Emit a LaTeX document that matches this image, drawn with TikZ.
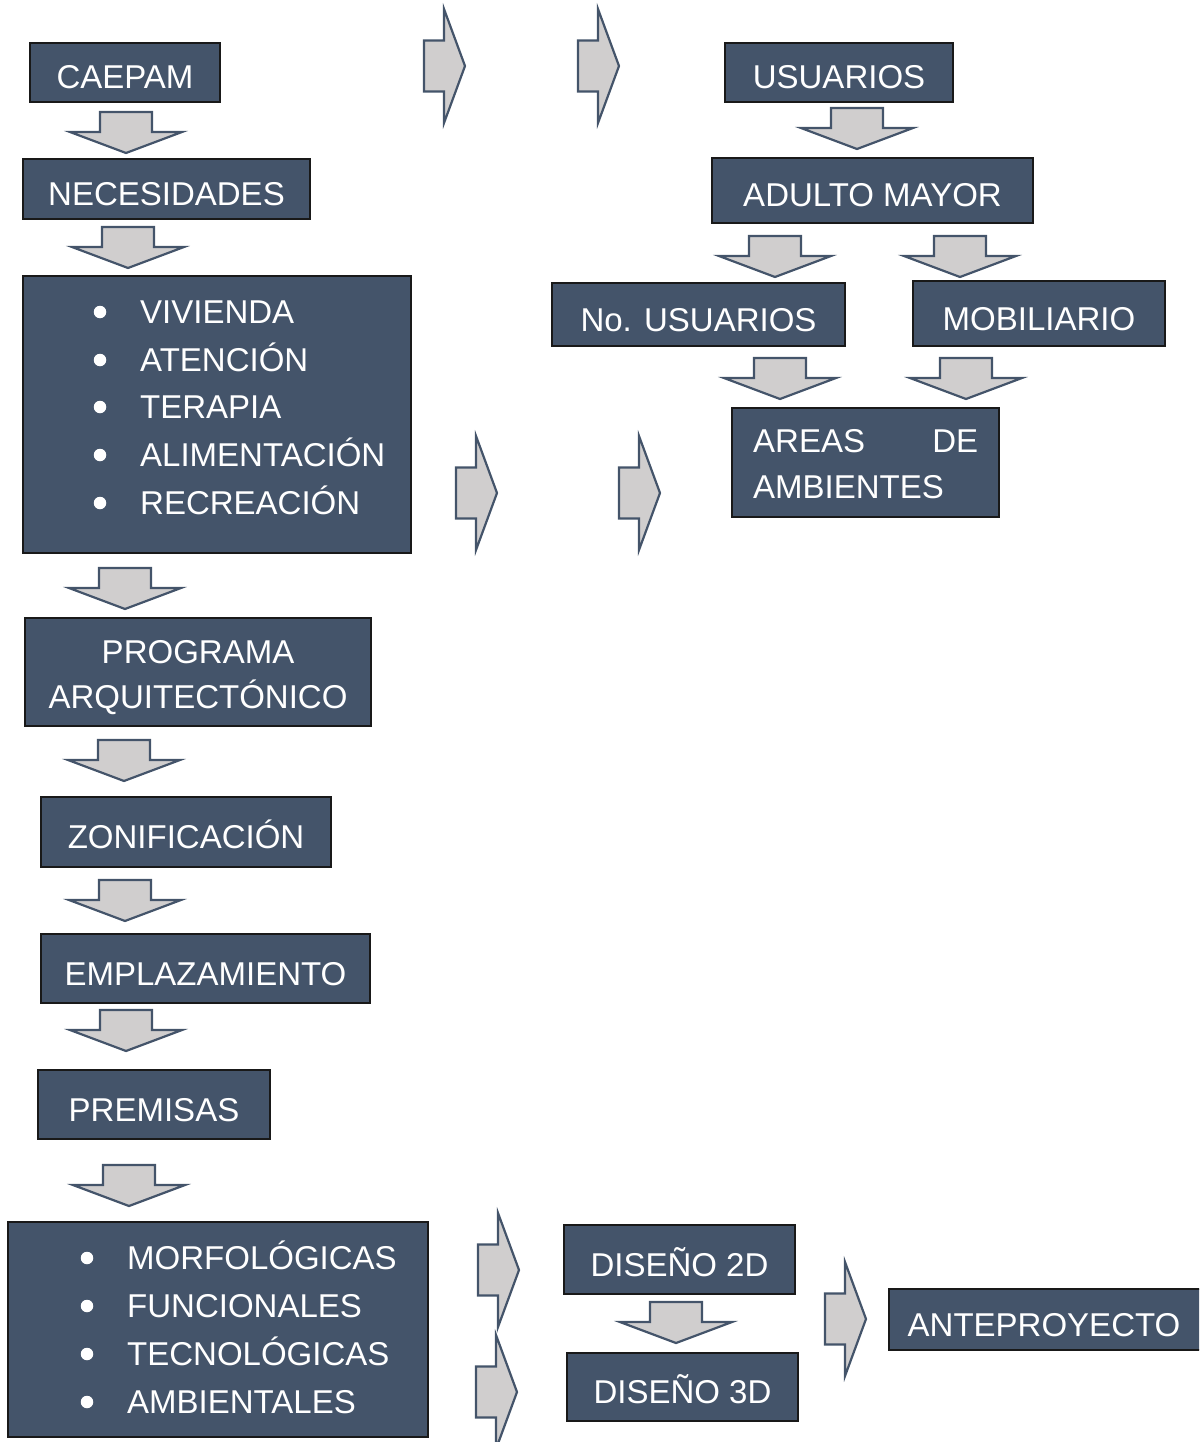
\documentclass[tikz,border=0pt]{standalone}
\usepackage{fontspec}
\setmainfont{Liberation Sans}
\definecolor{boxfill}{HTML}{44546A}
\definecolor{arrfill}{HTML}{D0CECE}
\definecolor{arrline}{HTML}{44546A}
\newcommand\mkbox[7][box]{\node[#1, minimum width={(#5-#3)*1pt}, minimum height={(#6-#4)*1pt}] (#2) at ({(#3+#5)/2},{(#4+#6)/2}) {#7};}
\newcommand\darr[2]{\draw[blockarrow] (#1-26,#2) -- (#1+26,#2) -- (#1+26,#2+20) -- (#1+56,#2+20) -- (#1,#2+41) -- (#1-56,#2+20) -- (#1-26,#2+20) -- cycle;}
\newcommand\rarr[2]{\draw[blockarrow] (#1,#2-25.5) -- (#1+20,#2-25.5) -- (#1+20,#2-57) -- (#1+41,#2) -- (#1+20,#2+57) -- (#1+20,#2+25.5) -- (#1,#2+25.5) -- cycle;}
\begin{document}
\begin{tikzpicture}[x=1pt,y=-1pt,
  boxbase/.style={draw=black!90, line width=1.8pt, fill=boxfill, text=white, inner sep=0pt,
     font=\fontsize{33}{45}\selectfont},
  box/.style={boxbase, text height=33pt, text depth=0pt},
  blockarrow/.style={draw=arrline, fill=arrfill, line width=2.2pt, line join=miter},
  txt/.style={text=white, inner sep=0pt, font=\fontsize{33}{45}\selectfont},
  dot/.style={circle, fill=white, inner sep=0pt, minimum size=12.5pt}]
\useasboundingbox (0,0) rectangle (1199,1442);
\clip (0,0) rectangle (1199,1442);

% left column boxes
\mkbox{caepam}{30}{43}{220}{102}{CAEPAM}
\mkbox{neces}{23}{159}{310}{219}{NECESIDADES}
\mkbox[boxbase]{listA}{23}{276}{411}{553}{}
\mkbox[boxbase]{prog}{25}{618}{371}{726}{}
\node[txt, anchor=base] (progA) at (198,652+11.8) {PROGRAMA};
\node[txt, anchor=base] (progB) at (198,697+11.8) {ARQUITECTÓNICO};
\mkbox{zonif}{41}{797}{331}{867}{ZONIFICACIÓN}
\mkbox{empl}{41}{934}{370}{1003}{EMPLAZAMIENTO}
\mkbox{prem}{38}{1070}{270}{1139}{PREMISAS}
\mkbox[boxbase]{listB}{8}{1222}{428}{1437}{}

% list A
\foreach \t/\y/\n in {VIVIENDA/312/a, ATENCIÓN/360/b, TERAPIA/407/c, ALIMENTACIÓN/455/d, RECREACIÓN/503/e}{
  \node[dot] (da\n) at (100,\y) {};
  \node[txt, anchor=base west] (ta\n) at (140,\y+11.8) {\t};
}
% list B
\foreach \t/\y/\n in {MORFOLÓGICAS/1258/a, FUNCIONALES/1306/b, TECNOLÓGICAS/1354/c, AMBIENTALES/1402/d}{
  \node[dot] (db\n) at (87,\y) {};
  \node[txt, anchor=base west] (tb\n) at (127,\y+11.8) {\t};
}

% right column boxes
\mkbox{usu}{725}{43}{953}{102}{USUARIOS}
\mkbox{adulto}{712}{158}{1033}{223}{ADULTO MAYOR}
\mkbox{nous}{552}{283}{845}{346}{No. USUARIOS}
\mkbox{mobil}{913}{281}{1165}{346}{MOBILIARIO}
\mkbox[boxbase]{areas}{732}{408}{999}{517}{}
\node[txt, anchor=base west] (areasA) at (753,441+11.8) {\hbox to 225pt{AREAS\hfill DE}};
\node[txt, anchor=base west] (areasB) at (753,487+11.8) {AMBIENTES};

% bottom boxes
\mkbox{d2d}{564}{1225}{795}{1294}{DISEÑO 2D}
\mkbox{d3d}{567}{1353}{798}{1421}{DISEÑO 3D}
\mkbox{ante}{889}{1289}{1203}{1350}{\hspace*{-4pt}ANTEPROYECTO}

% down arrows
\darr{126}{112}
\darr{128}{227}
\darr{125}{568}
\darr{124}{740}
\darr{125}{880}
\darr{126}{1010}
\darr{129}{1165}
\darr{857}{108}
\darr{775}{236}
\darr{960}{236}
\darr{780}{358}
\darr{966}{358}
\darr{676}{1302}

% right arrows
\rarr{424}{66}
\rarr{578}{66}
\rarr{456}{493}
\rarr{619}{493}
\rarr{478}{1270}
\rarr{476}{1392}
\rarr{825}{1319}
\end{tikzpicture}
\end{document}
